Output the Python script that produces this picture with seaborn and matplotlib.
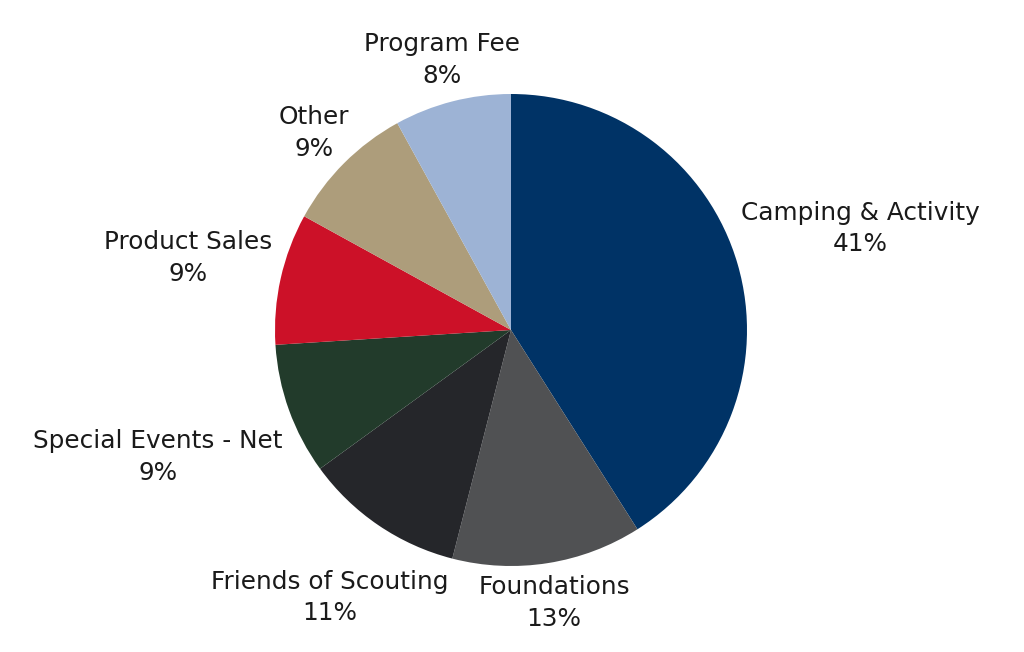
import matplotlib
matplotlib.use("Agg")
import matplotlib.pyplot as plt
import seaborn as sns
import numpy as np

categories = ["Camping & Activity", "Foundations", "Friends of Scouting",
              "Special Events - Net", "Product Sales", "Other", "Program Fee"]
values = [41, 13, 11, 9, 9, 9, 8]
colors = ["#003366", "#505153", "#25262a", "#223b2b", "#cc1128", "#ad9d7b", "#9db3d5"]
label_dist = [1.54, 1.17, 1.37, 1.59, 1.40, 1.18, 1.18]

sns.set_theme(style="white")
plt.rcParams["font.family"] = ["DejaVu Sans"]

W, H = 1024, 652
cx, cy, R = 511, 330, 236
fig = plt.figure(figsize=(W / 100, H / 100), dpi=100)
ax = fig.add_axes([0, 0, 1, 1])
ax.axis("off")

wedges, _ = ax.pie(values, colors=colors, startangle=90, counterclock=False,
                   radius=1.0, wedgeprops=dict(linewidth=0))
ax.set_aspect("auto")
ax.set_xlim((0 - cx) / R, (W - cx) / R)
ax.set_ylim((cy - H) / R, cy / R)

for w, cat, v, d in zip(wedges, categories, values, label_dist):
    ang = np.deg2rad((w.theta1 + w.theta2) / 2)
    x, y = d * np.cos(ang), d * np.sin(ang)
    ax.text(x, y, f"{cat}\n{v}%", ha="center", va="center", fontsize=17.8,
            color="#1a1a1a", linespacing=1.4)

fig.savefig("out.png", dpi=100, facecolor="white")
